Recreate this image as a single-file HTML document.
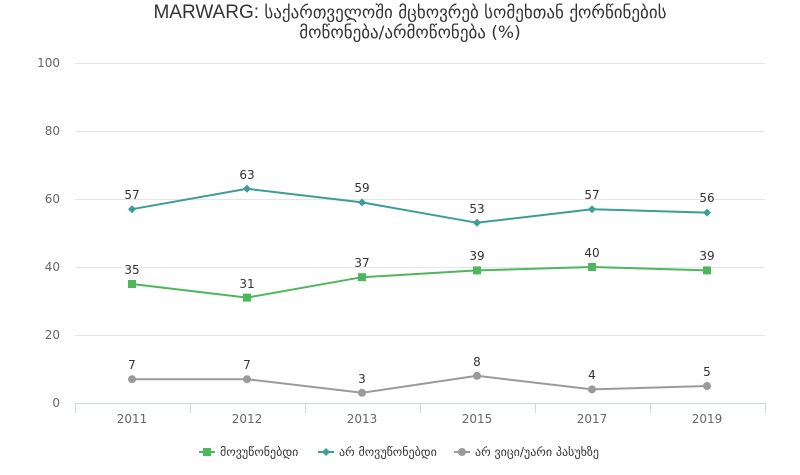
<!DOCTYPE html>
<html><head><meta charset="utf-8"><style>
body{margin:0;background:#fff;}
text{font-family:"DejaVu Sans","Liberation Sans",sans-serif;}
</style></head><body>
<svg width="800" height="470" viewBox="0 0 800 470" xmlns="http://www.w3.org/2000/svg">
<rect width="800" height="470" fill="#fff"/>
<text x="410" y="18" text-anchor="middle" font-size="17" fill="#333"><tspan font-family="Liberation Sans" font-size="19">MARWARG:</tspan> საქართველოში მცხოვრებ სომეხთან ქორწინების</text>
<text x="410" y="38" text-anchor="middle" font-size="17" fill="#333">მოწონება/არმოწონება (%)</text>
<g stroke="#e6e6e6" stroke-width="1">
<line x1="75" x2="765" y1="63.5" y2="63.5"/>
<line x1="75" x2="765" y1="131.5" y2="131.5"/>
<line x1="75" x2="765" y1="199.5" y2="199.5"/>
<line x1="75" x2="765" y1="267.5" y2="267.5"/>
<line x1="75" x2="765" y1="335.5" y2="335.5"/>
</g>
<line x1="75" x2="765" y1="403.5" y2="403.5" stroke="#ccd6eb"/>
<g stroke="#ccd6eb">
<line x1="75.5" x2="75.5" y1="403" y2="413"/><line x1="190.5" x2="190.5" y1="403" y2="413"/>
<line x1="305.5" x2="305.5" y1="403" y2="413"/><line x1="420.5" x2="420.5" y1="403" y2="413"/>
<line x1="535.5" x2="535.5" y1="403" y2="413"/><line x1="650.5" x2="650.5" y1="403" y2="413"/>
<line x1="765.5" x2="765.5" y1="403" y2="413"/>
</g>
<g font-family="Liberation Sans" font-size="12" fill="#666" text-anchor="end">
<text x="60" y="67">100</text><text x="60" y="135">80</text><text x="60" y="203">60</text>
<text x="60" y="271">40</text><text x="60" y="339">20</text><text x="60" y="407">0</text>
</g>
<g font-family="Liberation Sans" font-size="12" fill="#666" text-anchor="middle">
<text x="132" y="423">2011</text><text x="247" y="423">2012</text><text x="362" y="423">2013</text>
<text x="477" y="423">2015</text><text x="592" y="423">2017</text><text x="707" y="423">2019</text>
</g>
<polyline fill="none" stroke="#3a9e94" stroke-width="2" points="132,209.2 247,188.8 362,202.4 477,222.8 592,209.2 707,212.6"/>
<polyline fill="none" stroke="#4cb85b" stroke-width="2" points="132,284 247,297.6 362,277.2 477,270.4 592,267 707,270.4"/>
<polyline fill="none" stroke="#9a9a9a" stroke-width="2" points="132,379.2 247,379.2 362,392.8 477,375.8 592,389.4 707,386"/>
<g fill="#3a9e94">
<path d="M132,205.2l4,4l-4,4l-4,-4z"/><path d="M247,184.8l4,4l-4,4l-4,-4z"/><path d="M362,198.4l4,4l-4,4l-4,-4z"/>
<path d="M477,218.8l4,4l-4,4l-4,-4z"/><path d="M592,205.2l4,4l-4,4l-4,-4z"/><path d="M707,208.6l4,4l-4,4l-4,-4z"/>
</g>
<g fill="#4cb85b">
<rect x="128" y="280" width="8" height="8"/><rect x="243" y="293.6" width="8" height="8"/><rect x="358" y="273.2" width="8" height="8"/>
<rect x="473" y="266.4" width="8" height="8"/><rect x="588" y="263" width="8" height="8"/><rect x="703" y="266.4" width="8" height="8"/>
</g>
<g fill="#9a9a9a">
<circle cx="132" cy="379.2" r="4"/><circle cx="247" cy="379.2" r="4"/><circle cx="362" cy="392.8" r="4"/>
<circle cx="477" cy="375.8" r="4"/><circle cx="592" cy="389.4" r="4"/><circle cx="707" cy="386" r="4"/>
</g>
<g font-family="Liberation Sans" font-size="12" fill="#333" text-anchor="middle">
<text x="132" y="199">57</text><text x="247" y="179">63</text><text x="362" y="192">59</text>
<text x="477" y="213">53</text><text x="592" y="199">57</text><text x="707" y="202">56</text>
<text x="132" y="274">35</text><text x="247" y="288">31</text><text x="362" y="267">37</text>
<text x="477" y="260">39</text><text x="592" y="257">40</text><text x="707" y="260">39</text>
<text x="132" y="369">7</text><text x="247" y="369">7</text><text x="362" y="383">3</text>
<text x="477" y="366">8</text><text x="592" y="379">4</text><text x="707" y="376">5</text>
</g>
<g font-size="12" fill="#333">
<line x1="199" x2="215" y1="452" y2="452" stroke="#4cb85b" stroke-width="2"/><rect x="203" y="448" width="8" height="8" fill="#4cb85b"/>
<text x="220" y="456">მოვუწონებდი</text>
<line x1="318" x2="334" y1="452" y2="452" stroke="#3a9e94" stroke-width="2"/><path d="M326,448l4,4l-4,4l-4,-4z" fill="#3a9e94"/>
<text x="339" y="456">არ მოვუწონებდი</text>
<line x1="454" x2="470" y1="452" y2="452" stroke="#9a9a9a" stroke-width="2"/><circle cx="462" cy="452" r="4" fill="#9a9a9a"/>
<text x="475" y="456">არ ვიცი/უარი პასუხზე</text>
</g>
</svg>
</body></html>
